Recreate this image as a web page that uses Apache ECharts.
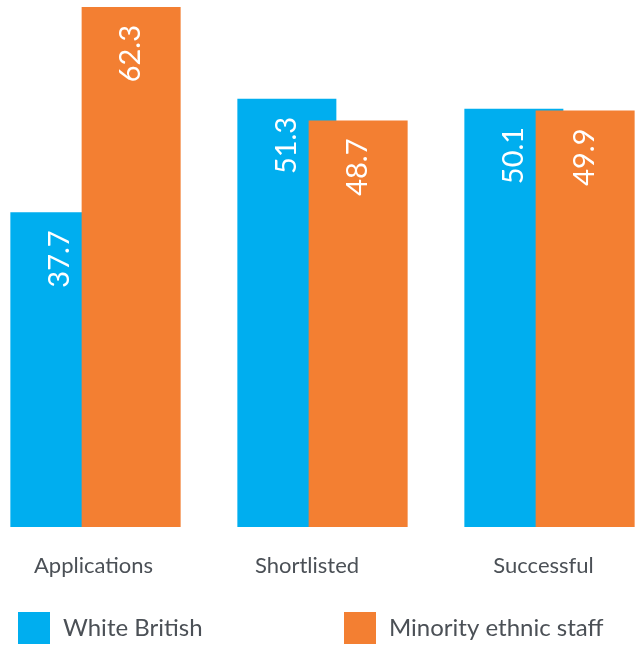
<!DOCTYPE html>
<html>
<head>
<meta charset="utf-8">
<script src="https://cdn.jsdelivr.net/npm/echarts@6/dist/echarts.min.js"></script>
<style>
  html, body { margin: 0; padding: 0; background: #ffffff; }
  #chart { width: 635px; height: 646px; }
</style>
</head>
<body>
<div id="chart"></div>
<script>
// Recruitment stages, percentages by group
const categories = ['Applications', 'Shortlisted', 'Successful'];
const whiteBritish = [37.7, 51.3, 50.1];
const minorityEthnic = [62.3, 48.7, 49.9];
const seriesNames = ['White British', 'Minority ethnic staff'];

// how far (px) each stage name sits left of its bar pair's centre
const labelNudge = [2, 15.5, 6];

const BLUE = '#00aeef';
const ORANGE = '#f37f32';
const TEXT = '#4b5056';
const FONT = 'Lato, "Noto Sans", sans-serif';

const chart = echarts.init(document.getElementById('chart'), null, { renderer: 'canvas' });

const valueLabel = {
  show: true,
  position: 'insideTop',
  rotate: 90,
  align: 'right',
  verticalAlign: 'middle',
  distance: 18,
  color: '#ffffff',
  fontFamily: FONT,
  fontSize: 29,
  formatter: p => p.value.toFixed(1)
};

const legendBase = {
  orient: 'horizontal',
  top: 612,
  padding: 0,
  itemWidth: 32,
  itemHeight: 32,
  icon: 'rect',
  selectedMode: false,
  textStyle: { color: TEXT, fontFamily: FONT, fontSize: 24, padding: [2, 0, 0, 8] }
};

chart.setOption({
  animation: false,
  backgroundColor: '#ffffff',
  grid: {
    left: -18, width: 681, top: 7, bottom: 119,
    containLabel: false, outerBoundsMode: 'none'
  },
  legend: [
    Object.assign({}, legendBase, { left: 18, data: [seriesNames[0]] }),
    Object.assign({}, legendBase, { left: 344, data: [seriesNames[1]] })
  ],
  xAxis: {
    type: 'category',
    data: categories.map((c, i) => ({
      value: c,
      textStyle: { padding: [0, labelNudge[i] * 2, 0, 0] }
    })),
    axisLine: { show: false },
    axisTick: { show: false },
    axisLabel: {
      margin: 28,
      color: TEXT,
      fontFamily: FONT,
      fontSize: 22
    }
  },
  yAxis: {
    type: 'value',
    min: 0,
    max: 62.3,
    show: false,
    splitLine: { show: false }
  },
  series: [
    {
      name: seriesNames[0],
      type: 'bar',
      data: whiteBritish,
      barWidth: 99,
      barGap: '-28%',
      itemStyle: { color: BLUE },
      label: valueLabel
    },
    {
      name: seriesNames[1],
      type: 'bar',
      data: minorityEthnic,
      barWidth: 99,
      barGap: '-28%',
      itemStyle: { color: ORANGE },
      label: valueLabel
    }
  ]
});
</script>
</body>
</html>
